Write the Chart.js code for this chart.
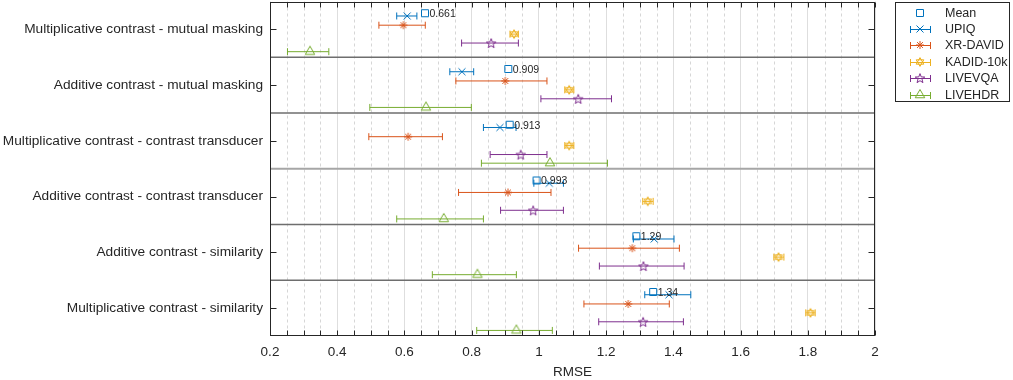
<!DOCTYPE html>
<html>
<head>
<meta charset="utf-8">
<script src="https://cdn.jsdelivr.net/npm/chart.js@4/dist/chart.umd.min.js"></script>
<style>
html,body{margin:0;padding:0;background:#fff;}
#wrap{width:1013px;height:380px;position:relative;}
</style>
</head>
<body>
<div id="wrap"><canvas id="c" width="1013" height="380"></canvas></div>
<script>
// ---------------- data ----------------
const categories = [
  'Multiplicative contrast - mutual masking',
  'Additive contrast - mutual masking',
  'Multiplicative contrast - contrast transducer',
  'Additive contrast - contrast transducer',
  'Additive contrast - similarity',
  'Multiplicative contrast - similarity'
];
const xMajorTicks = [0.2, 0.4, 0.6, 0.8, 1.0, 1.2, 1.4, 1.6, 1.8, 2.0];
const meanValues = [0.661, 0.909, 0.913, 0.993, 1.29, 1.34];

const upiqMid  = [0.608, 0.771, 0.884, 1.031, 1.343, 1.387];
const upiqLow  = [0.577, 0.735, 0.835, 0.985, 1.281, 1.315];
const upiqHigh = [0.637, 0.806, 0.932, 1.073, 1.402, 1.452];

const xrdavidMid  = [0.597, 0.900, 0.611, 0.908, 1.278, 1.266];
const xrdavidLow  = [0.524, 0.753, 0.494, 0.761, 1.118, 1.134];
const xrdavidHigh = [0.662, 1.024, 0.713, 1.036, 1.418, 1.388];

const kadidMid  = [0.926, 1.090, 1.090, 1.324, 1.713, 1.808];
const kadidLow  = [0.914, 1.077, 1.077, 1.309, 1.699, 1.794];
const kadidHigh = [0.939, 1.104, 1.104, 1.340, 1.729, 1.822];

const livevqaMid  = [0.858, 1.117, 0.946, 0.983, 1.311, 1.310];
const livevqaLow  = [0.770, 1.006, 0.855, 0.886, 1.180, 1.178];
const livevqaHigh = [0.939, 1.216, 1.024, 1.073, 1.432, 1.430];

const livehdrMid  = [0.319, 0.664, 1.033, 0.717, 0.817, 0.933];
const livehdrLow  = [0.252, 0.497, 0.829, 0.577, 0.683, 0.815];
const livehdrHigh = [0.375, 0.799, 1.204, 0.835, 0.933, 1.040];

// ---------------- styling ----------------
const FONT = '"Liberation Sans", Arial, Helvetica, sans-serif';
const AXIS = '#262626';

function makeMarker(kind, color) {
  const s = 16, m = 8;
  const c = document.createElement('canvas');
  c.width = s; c.height = s;
  const g = c.getContext('2d');
  g.strokeStyle = color; g.lineWidth = 1; g.lineJoin = 'miter';
  g.beginPath();
  if (kind === 'square') {
    g.rect(m - 3.5, m - 3.5, 7, 7);
  } else if (kind === 'x') {
    g.moveTo(m - 3.5, m - 3.5); g.lineTo(m + 3.5, m + 3.5);
    g.moveTo(m - 3.5, m + 3.5); g.lineTo(m + 3.5, m - 3.5);
  } else if (kind === 'asterisk') {
    g.moveTo(m - 4, m); g.lineTo(m + 4, m);
    g.moveTo(m, m - 4); g.lineTo(m, m + 4);
    const d = 2.9;
    g.moveTo(m - d, m - d); g.lineTo(m + d, m + d);
    g.moveTo(m - d, m + d); g.lineTo(m + d, m - d);
  } else if (kind === 'hexagram') {
    const r = 4.4;
    [-90, 90].forEach(start => {
      for (let k = 0; k < 3; k++) {
        const a = (start + k * 120) * Math.PI / 180;
        const px = m + r * Math.cos(a), py = m + r * Math.sin(a);
        if (k === 0) g.moveTo(px, py); else g.lineTo(px, py);
      }
      g.closePath();
    });
  } else if (kind === 'pentagram') {
    const ro = 5, ri = 2.1;
    for (let k = 0; k < 10; k++) {
      const a = -Math.PI / 2 + k * Math.PI / 5;
      const r = k % 2 ? ri : ro;
      const px = m + r * Math.cos(a), py = m + 0.6 + r * Math.sin(a);
      if (k === 0) g.moveTo(px, py); else g.lineTo(px, py);
    }
    g.closePath();
  } else if (kind === 'triangle') {
    const r = 5.5;
    g.moveTo(m, m - r);
    g.lineTo(m + r * Math.cos(Math.PI / 6), m + r / 2);
    g.lineTo(m - r * Math.cos(Math.PI / 6), m + r / 2);
    g.closePath();
  }
  g.stroke();
  return c;
}

const seriesDefs = [
  { label: 'UPIQ',       mid: upiqMid,    low: upiqLow,    high: upiqHigh,    color: '#0072BD', marker: 'x',         offset: -0.24 },
  { label: 'XR-DAVID',   mid: xrdavidMid, low: xrdavidLow, high: xrdavidHigh, color: '#D95319', marker: 'asterisk',  offset: -0.075 },
  { label: 'KADID-10k',  mid: kadidMid,   low: kadidLow,   high: kadidHigh,   color: '#EDB120', marker: 'hexagram',  offset: 0.085 },
  { label: 'LIVEVQA',    mid: livevqaMid, low: livevqaLow, high: livevqaHigh, color: '#7E2F8E', marker: 'pentagram', offset: 0.245 },
  { label: 'LIVEHDR',    mid: livehdrMid, low: livehdrLow, high: livehdrHigh, color: '#77AC30', marker: 'triangle',  offset: 0.40 }
];
const MEAN_OFFSET = -0.29;

const datasets = [{
  label: 'Mean',
  data: meanValues.map((v, i) => ({ x: v, y: i + 1 + MEAN_OFFSET })),
  pointStyle: makeMarker('square', '#0072BD'),
  isMean: true,
  showLine: false
}].concat(seriesDefs.map(s => ({
  label: s.label,
  data: s.mid.map((v, i) => ({ x: v, y: i + 1 + s.offset })),
  errLow: s.low,
  errHigh: s.high,
  errColor: s.color,
  pointStyle: makeMarker(s.marker, s.color),
  showLine: false
})));

const xTickValues = [];
for (let k = 4; k <= 40; k++) xTickValues.push(k / 20);
const isMajor = v => xMajorTicks.some(t => Math.abs(t - v) < 1e-6);
const zeroPad = () => ({ left: 0, top: 0, right: 0, bottom: 0 });

// ---------------- plugins ----------------
const backgroundPlugin = {
  id: 'bgGrid',
  beforeDatasetsDraw(chart) {
    const { ctx, chartArea: a, scales: { x, y } } = chart;
    ctx.save();
    // minor dashed grid
    ctx.strokeStyle = '#d6d6d6'; ctx.lineWidth = 1; ctx.setLineDash([3, 3]);
    xTickValues.forEach(v => {
      if (isMajor(v)) return;
      const px = Math.round(x.getPixelForValue(v)) + 0.5;
      ctx.beginPath(); ctx.moveTo(px, a.top); ctx.lineTo(px, a.bottom); ctx.stroke();
    });
    ctx.setLineDash([]);
    // group separators
    for (let k = 1; k < categories.length; k++) {
      const py = y.getPixelForValue(k + 0.5);
      ctx.beginPath();
      if (k === 3) { ctx.strokeStyle = '#a6a6a6'; ctx.lineWidth = 2; }
      else { ctx.strokeStyle = '#6e6e6e'; ctx.lineWidth = 1.3; }
      ctx.moveTo(a.left, py); ctx.lineTo(a.right, py); ctx.stroke();
    }
    // error bars
    ctx.lineWidth = 1;
    chart.data.datasets.forEach((ds, di) => {
      if (!ds.errLow) return;
      const meta = chart.getDatasetMeta(di);
      ctx.strokeStyle = ds.errColor;
      meta.data.forEach((el, i) => {
        const x1 = x.getPixelForValue(ds.errLow[i]);
        const x2 = x.getPixelForValue(ds.errHigh[i]);
        const py = el.y;
        ctx.beginPath();
        ctx.moveTo(x1, py); ctx.lineTo(x2, py);
        ctx.moveTo(x1, py - 3.5); ctx.lineTo(x1, py + 3.5);
        ctx.moveTo(x2, py - 3.5); ctx.lineTo(x2, py + 3.5);
        ctx.stroke();
      });
    });
    ctx.restore();
  }
};

const frontPlugin = {
  id: 'frontStuff',
  afterDatasetsDraw(chart) {
    const { ctx, chartArea: a, scales: { x, y } } = chart;
    ctx.save();
    // mean labels
    chart.data.datasets.forEach((ds, di) => {
      if (!ds.isMean) return;
      const meta = chart.getDatasetMeta(di);
      ctx.fillStyle = AXIS;
      ctx.font = '10.5px ' + FONT;
      ctx.textAlign = 'left'; ctx.textBaseline = 'middle';
      meta.data.forEach((el, i) => {
        ctx.fillText(meanValues[i].toPrecision(3), el.x + 4.5, el.y + 1);
      });
    });
    // axes box
    ctx.strokeStyle = AXIS; ctx.lineWidth = 1;
    const L = Math.round(a.left) + 0.5, R = Math.round(a.right) - 0.5;
    const T = Math.round(a.top) + 0.5, B = Math.round(a.bottom) - 0.5;
    ctx.strokeRect(L, T, R - L, B - T);
    // x ticks (inward, top and bottom)
    ctx.beginPath();
    xTickValues.forEach(v => {
      const px = Math.round(x.getPixelForValue(v)) + 0.5;
      ctx.moveTo(px, B); ctx.lineTo(px, B - 5);
      ctx.moveTo(px, T); ctx.lineTo(px, T + 5);
    });
    // y ticks (inward, left and right)
    categories.forEach((c, i) => {
      const py = Math.round(y.getPixelForValue(i + 1)) + 0.5;
      ctx.moveTo(L, py); ctx.lineTo(L + 6, py);
      ctx.moveTo(R, py); ctx.lineTo(R - 6, py);
    });
    ctx.stroke();
    ctx.restore();
  },
  afterDraw(chart) {
    const ctx = chart.ctx;
    ctx.save();
    const x0 = 895.5, y0 = 2.5, w = 114, h = 99;
    ctx.fillStyle = '#fff'; ctx.fillRect(x0, y0, w, h);
    ctx.strokeStyle = AXIS; ctx.lineWidth = 1; ctx.strokeRect(x0, y0, w, h);
    ctx.font = '12.5px ' + FONT; ctx.textAlign = 'left'; ctx.textBaseline = 'middle';
    chart.data.datasets.forEach((ds, i) => {
      const cy = Math.round(12.5 + i * 16.4) + 0.5;
      const cx = 920.5;
      if (ds.errLow) {
        ctx.strokeStyle = ds.errColor; ctx.lineWidth = 1;
        ctx.beginPath();
        ctx.moveTo(cx - 10, cy); ctx.lineTo(cx + 10, cy);
        ctx.moveTo(cx - 10, cy - 3.5); ctx.lineTo(cx - 10, cy + 3.5);
        ctx.moveTo(cx + 10, cy - 3.5); ctx.lineTo(cx + 10, cy + 3.5);
        ctx.stroke();
      }
      const img = ds.pointStyle;
      ctx.drawImage(img, cx - 0.5 - img.width / 2, cy - 0.5 - img.height / 2);
      ctx.fillStyle = AXIS;
      ctx.fillText(ds.label, 945, cy + 0.5);
    });
    ctx.restore();
  }
};

// ---------------- chart ----------------
new Chart(document.getElementById('c'), {
  type: 'scatter',
  data: { datasets },
  options: {
    responsive: false,
    animation: false,
    devicePixelRatio: 1,
    layout: { autoPadding: false, padding: { left: 0, right: 138, top: 1.5, bottom: 0 } },
    plugins: { legend: { display: false }, tooltip: { enabled: false } },
    elements: { point: { radius: 5, hoverRadius: 5, borderWidth: 1 } },
    scales: {
      x: {
        type: 'linear', min: 0.2, max: 2,
        afterBuildTicks: s => { s.ticks = xTickValues.map(v => ({ value: v })); },
        afterFit: s => { s.height = 44; s.paddingLeft = 0; s.paddingRight = 0; s.getPadding = zeroPad; },
        ticks: {
          autoSkip: false, maxRotation: 0, padding: 8, color: AXIS,
          font: { family: FONT, size: 13.5 },
          callback: v => isMajor(v) ? String(+Number(v).toFixed(1)) : ''
        },
        grid: {
          drawTicks: false, lineWidth: 1,
          color: ctx => (ctx.tick && isMajor(ctx.tick.value)) ? '#dedede' : 'rgba(0,0,0,0)'
        },
        border: { display: false },
        title: { display: true, text: 'RMSE', color: AXIS, font: { family: FONT, size: 13.5 }, padding: { top: 0, bottom: 0 } }
      },
      y: {
        type: 'linear', min: 0.5, max: 6.5, reverse: true,
        afterBuildTicks: s => { s.ticks = categories.map((c, i) => ({ value: i + 1 })); },
        afterFit: s => { s.width = 270; s.paddingTop = 0; s.paddingBottom = 0; s.getPadding = zeroPad; },
        ticks: {
          autoSkip: false, padding: 7, color: AXIS,
          font: { family: FONT, size: 13.7 },
          callback: v => categories[Math.round(v) - 1]
        },
        grid: { display: false, drawTicks: false },
        border: { display: false }
      }
    }
  },
  plugins: [backgroundPlugin, frontPlugin]
});
</script>
</body>
</html>
